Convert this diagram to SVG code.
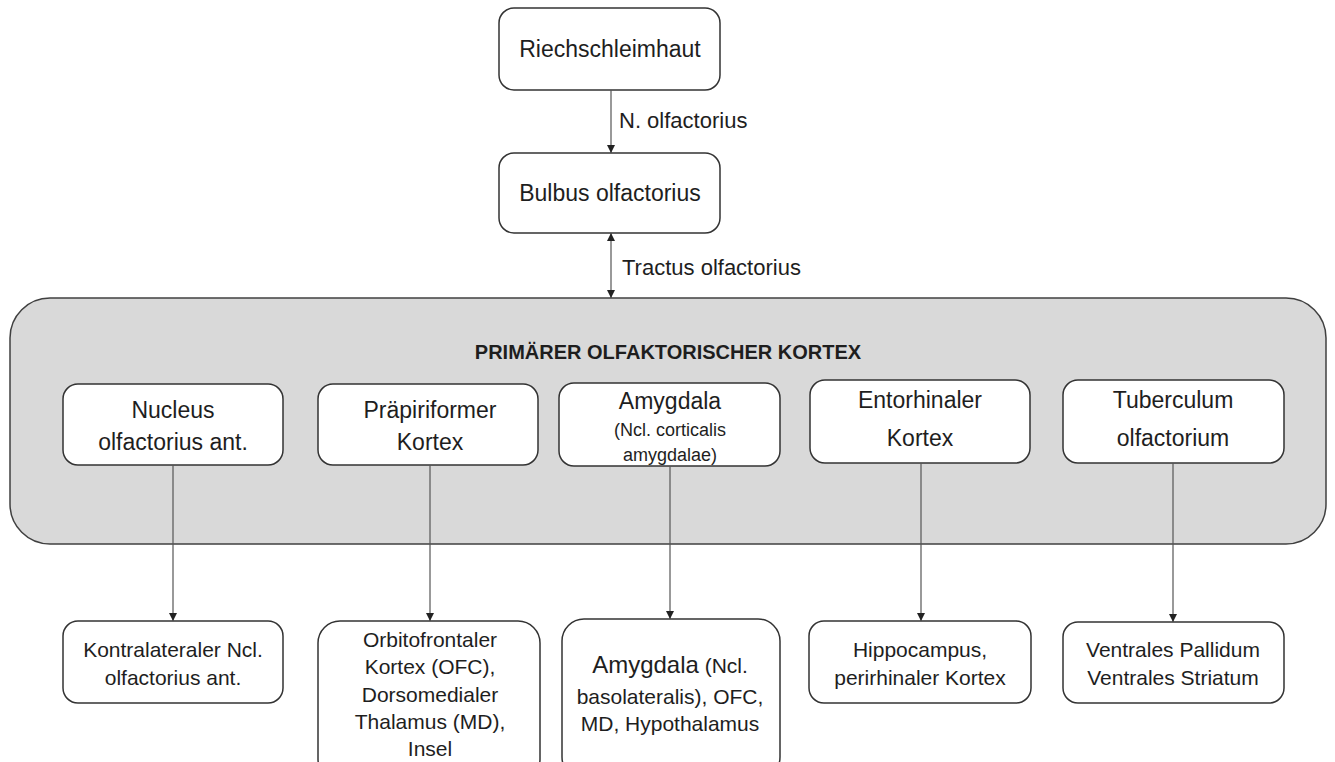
<svg xmlns="http://www.w3.org/2000/svg" width="1335" height="762" viewBox="0 0 1335 762">
<style>
.box{fill:#fff;stroke:#333;stroke-width:1.5}
.big{fill:#d9d9d9;stroke:#404040;stroke-width:1.5}
text{font-family:"Liberation Sans",Arial,sans-serif;fill:#1e1e1e;text-anchor:middle}
.t23{font-size:23px}
.t21{font-size:21px}
.t18{font-size:18px}
.lbl{text-anchor:start;font-size:22px}
.title{font-size:20px;font-weight:bold}
.con{stroke:#555;stroke-width:1.2;fill:none}
</style>
<defs>
<marker id="ah" viewBox="0 0 10 10" refX="10" refY="5" markerWidth="8" markerHeight="8" markerUnits="userSpaceOnUse" orient="auto-start-reverse">
<path d="M0,0 L10,5 L0,10 z" fill="#222"/>
</marker>
</defs>
<rect width="1335" height="762" fill="#fff"/>

<g id="cortex">
<rect class="big" x="10" y="298" width="1316" height="246" rx="40"/>
<text class="title" x="668" y="359">PRIMÄRER OLFAKTORISCHER KORTEX</text>
</g>

<g id="riechschleimhaut">
<rect class="box" x="499" y="8" width="221" height="82" rx="15"/>
<text class="t23" x="610" y="57">Riechschleimhaut</text>
</g>
<g id="bulbus">
<rect class="box" x="499" y="153" width="221" height="80" rx="15"/>
<text class="t23" x="610" y="201">Bulbus olfactorius</text>
</g>

<g id="nucleus">
<rect class="box" x="63" y="384" width="220" height="81" rx="15"/>
<text class="t23" x="173" y="418">Nucleus</text>
<text class="t23" x="173" y="450">olfactorius ant.</text>
</g>
<g id="praepiriform">
<rect class="box" x="318" y="384" width="220" height="81" rx="15"/>
<text class="t23" x="430" y="418">Präpiriformer</text>
<text class="t23" x="430" y="450">Kortex</text>
</g>
<g id="amygdala">
<rect class="box" x="559" y="383" width="221" height="83" rx="15"/>
<text class="t23" x="670" y="409">Amygdala</text>
<text class="t18" x="670" y="436">(Ncl. corticalis</text>
<text class="t18" x="670" y="461">amygdalae)</text>
</g>
<g id="entorhinal">
<rect class="box" x="810" y="380" width="220" height="83" rx="15"/>
<text class="t23" x="920" y="408">Entorhinaler</text>
<text class="t23" x="920" y="446">Kortex</text>
</g>
<g id="tuberculum">
<rect class="box" x="1063" y="380" width="221" height="83" rx="15"/>
<text class="t23" x="1173" y="408">Tuberculum</text>
<text class="t23" x="1173" y="446">olfactorium</text>
</g>

<g id="kontralateral">
<rect class="box" x="63" y="621" width="220" height="82" rx="15"/>
<text class="t21" x="173" y="657">Kontralateraler Ncl.</text>
<text class="t21" x="173" y="685">olfactorius ant.</text>
</g>
<g id="orbitofrontal">
<rect class="box" x="318" y="621" width="222" height="160" rx="22"/>
<text class="t21" x="430" y="647">Orbitofrontaler</text>
<text class="t21" x="430" y="674">Kortex (OFC),</text>
<text class="t21" x="430" y="702">Dorsomedialer</text>
<text class="t21" x="430" y="729">Thalamus (MD),</text>
<text class="t21" x="430" y="756">Insel</text>
</g>
<g id="amygdala2">
<rect class="box" x="562" y="619" width="218" height="160" rx="22"/>
<text class="t21" x="670" y="673"><tspan font-size="24">Amygdala</tspan> (Ncl.</text>
<text class="t21" x="670" y="704">basolateralis), OFC,</text>
<text class="t21" x="670" y="731">MD, Hypothalamus</text>
</g>
<g id="hippocampus">
<rect class="box" x="809" y="621" width="222" height="82" rx="15"/>
<text class="t21" x="920" y="657">Hippocampus,</text>
<text class="t21" x="920" y="685">perirhinaler Kortex</text>
</g>
<g id="ventral">
<rect class="box" x="1063" y="622" width="221" height="81" rx="15"/>
<text class="t21" x="1173" y="657">Ventrales Pallidum</text>
<text class="t21" x="1173" y="685">Ventrales Striatum</text>
</g>

<g id="connectors">
<line class="con" x1="611" y1="90" x2="611" y2="153" marker-end="url(#ah)"/>
<text class="lbl" x="619" y="128">N. olfactorius</text>
<line class="con" x1="611" y1="233" x2="611" y2="298" marker-start="url(#ah)" marker-end="url(#ah)"/>
<text class="lbl" x="622" y="275">Tractus olfactorius</text>
<line class="con" x1="173" y1="465" x2="173" y2="621" marker-end="url(#ah)"/>
<line class="con" x1="430" y1="465" x2="430" y2="621" marker-end="url(#ah)"/>
<line class="con" x1="670" y1="466" x2="670" y2="619" marker-end="url(#ah)"/>
<line class="con" x1="921" y1="463" x2="921" y2="621" marker-end="url(#ah)"/>
<line class="con" x1="1173" y1="463" x2="1173" y2="622" marker-end="url(#ah)"/>
</g>
</svg>
